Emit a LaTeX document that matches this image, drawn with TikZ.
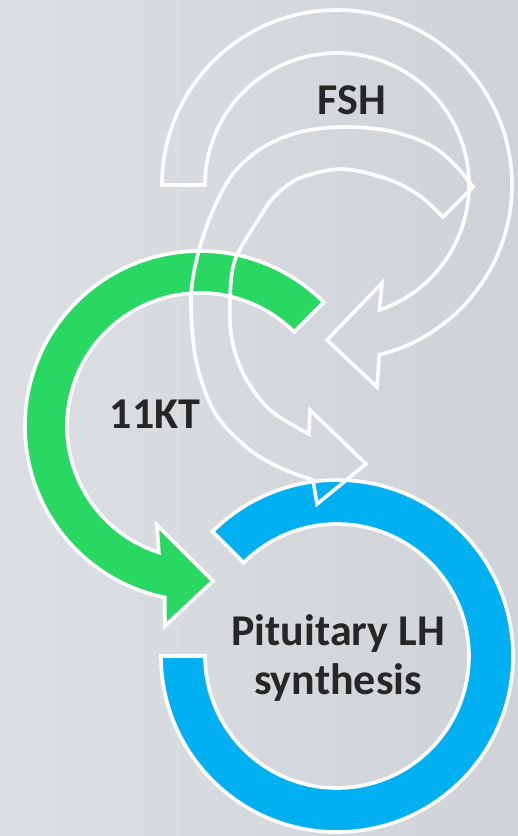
\documentclass[tikz,border=0pt]{standalone}
\usepackage{fontspec}
\setmainfont{Carlito}
\definecolor{bgL}{RGB}{221,224,227}
\definecolor{bgR}{RGB}{207,210,214}
\definecolor{grn}{RGB}{41,216,99}
\definecolor{blu}{RGB}{0,176,240}
\definecolor{txt}{RGB}{38,38,38}
\tikzset{
  ring/.style={draw=white, line width=3.6pt, line join=miter},
  lbl/.style={font=\bfseries\fontsize{44}{49}\selectfont, text=txt, align=center, inner sep=0pt},
}
\begin{document}
\begin{tikzpicture}[x=1pt,y=1pt]
\useasboundingbox (0,0) rectangle (518,-836);
\shade[left color=bgL, right color=bgR] (0,0) rectangle (518,-836);
% blue ring
\begin{scope}[shift={(337,-656)}]
\path[ring, fill=blu] (180:132) -- (180:176) arc[start angle=180, end angle=495, radius=176]
  -- (135:132) arc[start angle=135, end angle=-180, radius=132] -- cycle;
\end{scope}
% green arrow
\begin{scope}[shift={(200,-426)}]
\path[ring, fill=grn] (45:133) -- (45:175) arc[start angle=45, end angle=258.4, radius=175]
  -- (-35,-200) -- (13,-155) -- (-43,-99) -- (252:133)
  arc[start angle=252, end angle=45, radius=133] -- cycle;
\end{scope}
% FSH outline arrow
\begin{scope}[shift={(337,-185)}]
\path[ring] (180:132) -- (180:175) arc[start angle=180, end angle=-76, radius=175]
  -- (40,-202) -- (-10,-155) -- (45,-98) -- (-71.3:132)
  arc[start angle=-71.3, end angle=180, radius=132] -- cycle;
\end{scope}
% second outline arrow
\path[ring] (443,-217) -- plot[smooth, tension=0.55] coordinates {(473,-187) (455,-165) (430,-145) (390,-131) (343,-127) (300,-132) (262,-148) (232,-175) (211,-215) (197,-258) (191,-300) (196,-360) (215,-413) (250,-450) (283,-469) (313,-480)}
  -- (317,-504) -- (366,-464) -- (310,-410)
  -- plot[smooth, tension=0.55] coordinates {(309,-434) (270,-410) (245,-377) (232,-340) (230,-300) (235,-260) (258,-220) (275,-196) (300,-178) (343,-169) (390,-180) (420,-196) (443,-217)} -- cycle;
% labels
\node[lbl] (fsh) at (352,-100) {FSH};
\node[lbl] (kt) at (155,-414) {11KT};
\node[lbl] (lh) at (338,-658) {Pituitary LH\\synthesis};
\end{tikzpicture}
\end{document}
